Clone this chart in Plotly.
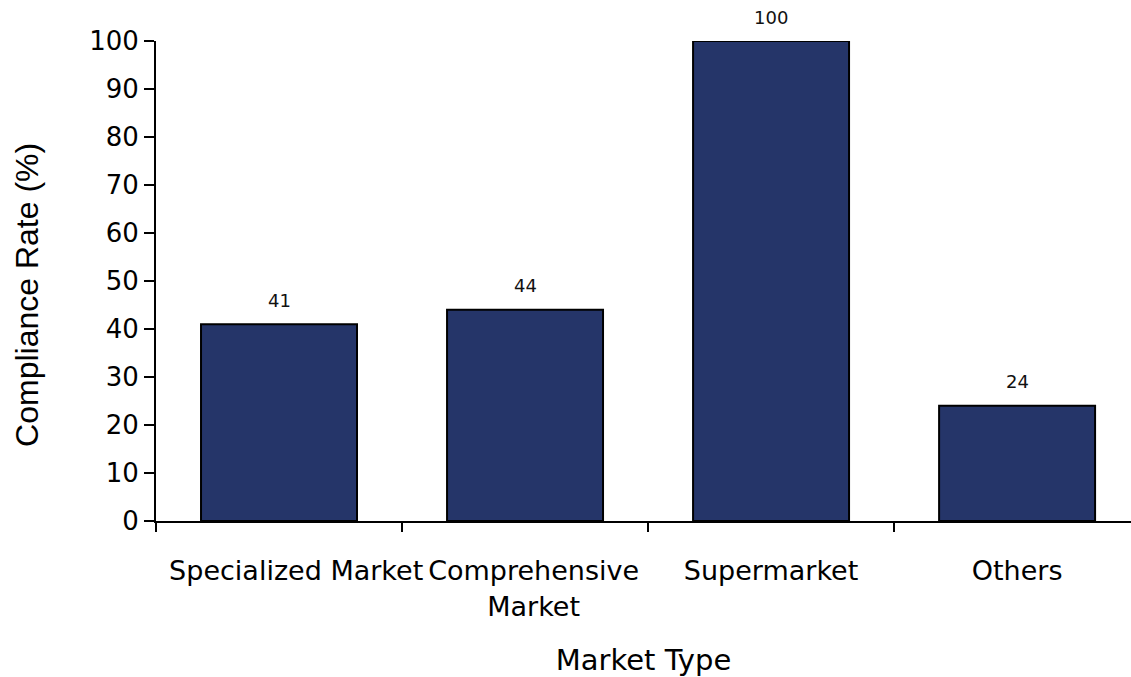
import plotly.graph_objects as go

# Compliance rate by market type
categories = ["Specialized Market", "Comprehensive<br>Market", "Supermarket", "Others"]
tick_labels = [
    "\u00a0\u00a0\u00a0\u00a0Specialized Market",
    "\u00a0\u00a0Comprehensive<br>\u00a0\u00a0Market",
    "Supermarket",
    "Others",
]
compliance = [41, 44, 100, 24]
y_ticks = [0, 10, 20, 30, 40, 50, 60, 70, 80, 90, 100]

FONT = "DejaVu Sans"
TITLE_FONT_Y = "Liberation Sans"
BAR_FILL = "#253569"

fig = go.Figure()
fig.add_trace(go.Bar(
    x=categories,
    y=compliance,
    marker=dict(color=BAR_FILL, line=dict(color="black", width=2)),
    hoverinfo="skip",
))

# value labels above each bar
for cat, val in zip(categories, compliance):
    fig.add_annotation(
        x=cat, y=val, text=str(val), showarrow=False,
        yanchor="middle", yshift=24,
        font=dict(family=FONT, size=18, color="#111111"),
    )

# y-axis title
fig.add_annotation(
    text="Compliance Rate (%)", textangle=-90, showarrow=False,
    xref="paper", yref="paper", x=-0.1323, y=0.471,
    xanchor="center", yanchor="middle",
    font=dict(family=TITLE_FONT_Y, size=32, color="black"),
)

fig.update_layout(
    width=1131, height=677,
    margin=dict(l=156, r=0, t=41, b=156),
    plot_bgcolor="white", paper_bgcolor="white",
    showlegend=False,
    bargap=0.366,
    font=dict(family=FONT, color="black"),
)

fig.update_xaxes(
    range=[-0.5, 3.463],
    tickvals=categories, ticktext=tick_labels,
    tickangle=0, automargin=False,
    showline=True, linecolor="black", linewidth=2,
    ticks="outside", tickson="boundaries", ticklen=9, tickwidth=2, tickcolor="black",
    tickfont=dict(family=FONT, size=27),
    ticklabelstandoff=25,
    title=dict(text="Market Type", font=dict(family=FONT, size=29), standoff=30),
    showgrid=False, zeroline=False,
)
fig.update_yaxes(
    range=[0, 100],
    tickvals=y_ticks, automargin=False,
    showline=True, linecolor="black", linewidth=2,
    ticks="outside", ticklen=10, tickwidth=2, tickcolor="black",
    tickfont=dict(family=FONT, size=26),
    showgrid=False, zeroline=False,
)

fig.write_html("out.html")
